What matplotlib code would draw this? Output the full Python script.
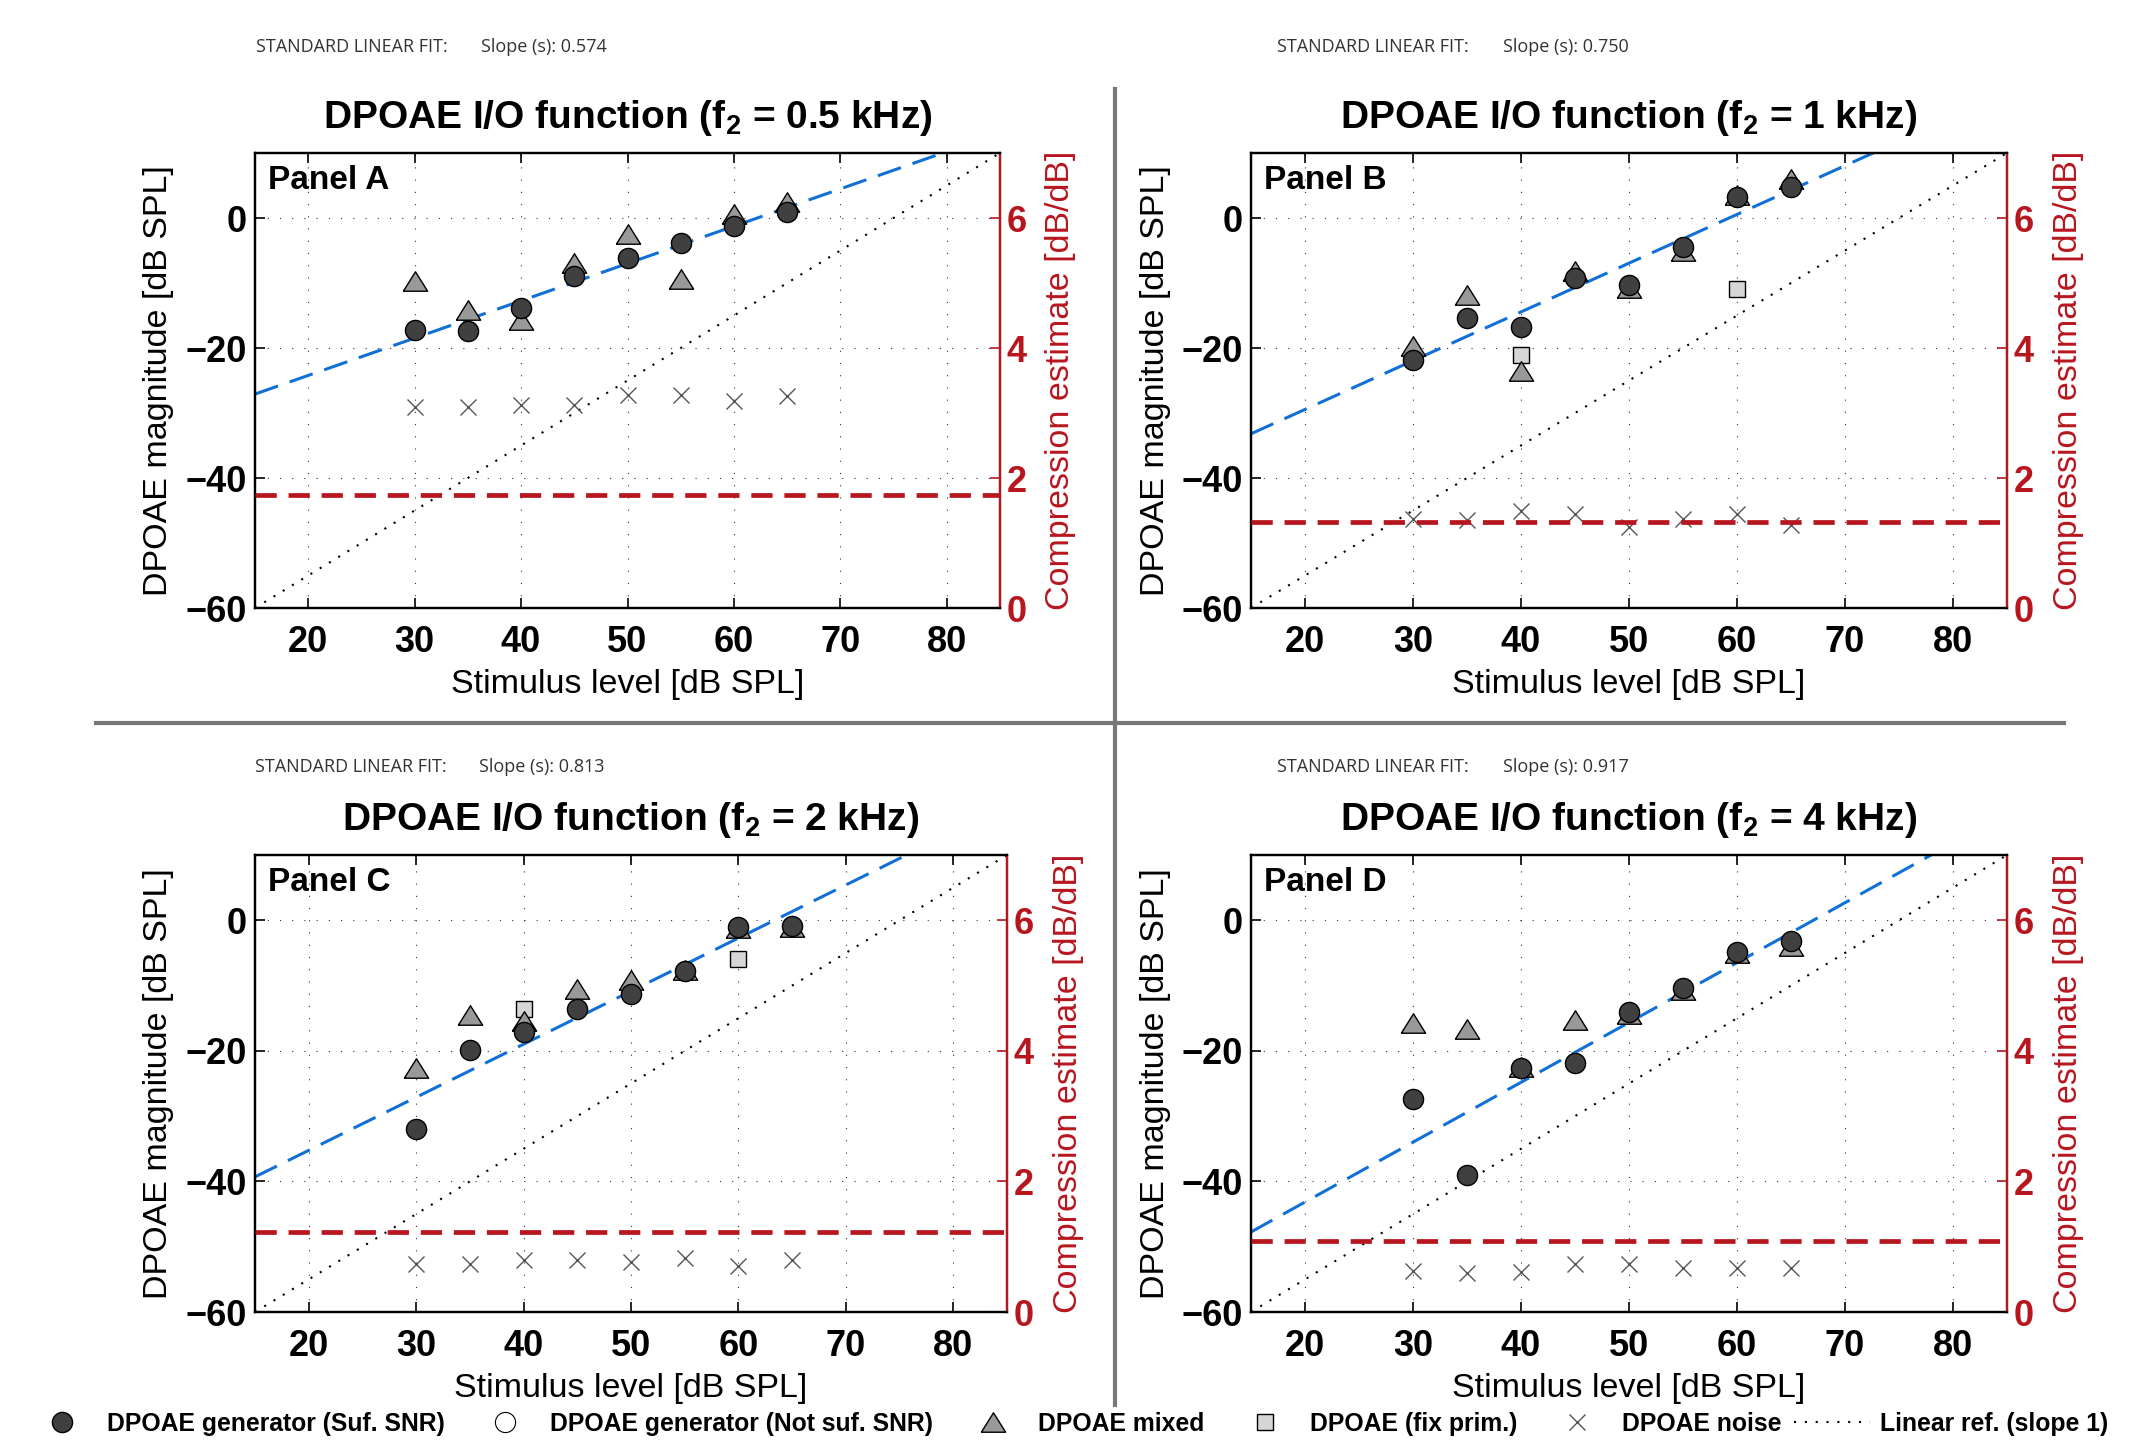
import matplotlib
matplotlib.use('Agg')
import matplotlib.pyplot as plt
import numpy as np
from matplotlib.lines import Line2D

plt.rcParams['font.family'] = ['Liberation Sans', 'DejaVu Sans']
plt.rcParams['mathtext.fontset'] = 'custom'
plt.rcParams['mathtext.rm'] = 'Liberation Sans'
plt.rcParams['mathtext.bf'] = 'Liberation Sans:bold'
plt.rcParams['mathtext.default'] = 'bf'

# stimulus levels (dB SPL)
levels = [30, 35, 40, 45, 50, 55, 60, 65]

panel_names = ['Panel A', 'Panel B', 'Panel C', 'Panel D']
f2_khz = ['0.5', '1', '2', '4']
fit_slope = [0.574, 0.750, 0.813, 0.917]
fit_intercept = [-35.7, -44.45, -51.5, -61.5]
compression = [1.74, 1.33, 1.23, 1.09]
linear_ref_offset = -75.0

# DPOAE generator (suf. SNR)
gen_a = [-17.3, -17.4, -13.8, -8.9, -6.1, -3.8, -1.3, 0.9]
gen_b = [-21.9, -15.4, -16.8, -9.3, -10.3, -4.5, 3.2, 4.7]
gen_c = [-32.0, -19.8, -17.1, -13.6, -11.3, -7.7, -1.0, -0.9]
gen_d = [-27.4, -39.0, -22.7, -21.9, -14.1, -10.3, -4.9, -3.1]

# DPOAE mixed
mixed_a = [-9.7, -14.2, -15.7, -6.9, -2.5, -9.4, 0.6, 2.4]
mixed_b = [-19.7, -11.8, -23.5, -8.2, -10.8, -5.1, 3.6, 6.0]
mixed_c = [-22.7, -14.5, -15.5, -10.6, -9.1, -7.6, -1.2, -1.1]
mixed_d = [-15.7, -16.6, -22.4, -15.3, -14.3, -10.7, -5.0, -4.0]

# DPOAE (fix prim.)
fix_levels_b = [40, 60]
fix_b = [-21.0, -10.9]
fix_levels_c = [40, 60]
fix_c = [-13.6, -6.0]

# DPOAE noise
noise_a = [-29.0, -29.1, -28.7, -28.8, -27.2, -27.3, -28.2, -27.4]
noise_b = [-46.3, -46.5, -45.1, -45.6, -47.5, -46.3, -45.6, -47.2]
noise_c = [-52.7, -52.7, -52.1, -52.1, -52.3, -51.7, -52.9, -52.1]
noise_d = [-53.7, -54.1, -53.8, -52.6, -52.7, -53.2, -53.3, -53.3]

gen = [gen_a, gen_b, gen_c, gen_d]
mixed = [mixed_a, mixed_b, mixed_c, mixed_d]
noise = [noise_a, noise_b, noise_c, noise_d]
fix_x = [[], fix_levels_b, fix_levels_c, []]
fix_y = [[], fix_b, fix_c, []]

xticks = [20, 30, 40, 50, 60, 70, 80]
yticks = [-60, -40, -20, 0]
rticks = [0, 2, 4, 6]

RED = '#b8161f'
BLUE = '#1170d6'

W, H = 2148, 1442
fig = plt.figure(figsize=(W / 100, H / 100), dpi=100)

# axes boxes in pixels: left, top, right, bottom
boxes = [(255, 153, 1000, 608), (1251, 153, 2007, 608),
         (255, 855, 1007, 1312), (1251, 855, 2007, 1312)]
ylab_x = [-0.1087, -0.1058, -0.1077, -0.1058]
fit_text_pos = [(256, 481, 47), (1277, 1503, 47), (255, 479, 767), (1277, 1503, 767)]

# wide MATLAB-like triangle
tri_verts = [(-1.25, -1.0), (1.25, -1.0), (0.0, 1.0), (-1.25, -1.0)]

circle_kw = dict(marker='o', ms=14.5, mfc='#404040', mec='k', mew=1.0, ls='none')
tri_kw = dict(marker=tri_verts, ms=17.5, mfc='#999999', mec='k', mew=1.0, ls='none')
sq_kw = dict(marker='s', ms=11.5, mfc='#d6d6d6', mec='k', mew=1.0, ls='none')
cross_kw = dict(marker='x', ms=11, color='#555555', mew=1.0, ls='none')
ref_kw = dict(color='k', lw=1.5, linestyle=(0, (1, 4.2)))

for i in range(4):
    l, t, r, b = boxes[i]
    ax = fig.add_axes([l / W, 1 - b / H, (r - l) / W, (b - t) / H])
    ax.set_xlim(15, 85)
    ax.set_ylim(-60, 10)

    ax.grid(True, color='#333333', linewidth=0.8, linestyle=(0, (1, 10)))

    x_line = np.array([15.0, 85.0])
    ax.plot(x_line, x_line + linear_ref_offset, zorder=2, **ref_kw)
    ax.plot(x_line, fit_slope[i] * x_line + fit_intercept[i], color=BLUE,
            lw=2.2, dashes=(8, 4), zorder=2)

    ax.plot(levels, noise[i], zorder=3, **cross_kw)
    ax.plot(fix_x[i], fix_y[i], zorder=4, **sq_kw)
    ax.plot(levels, mixed[i], zorder=5, **tri_kw)
    ax.plot(levels, gen[i], zorder=6, **circle_kw)

    ax.set_xticks(xticks)
    ax.set_xticklabels([str(v) for v in xticks], fontsize=26, fontweight='bold')
    ax.set_yticks(yticks)
    ax.set_yticklabels([str(v).replace('-', '\u2212') for v in yticks],
                       fontsize=26, fontweight='bold')
    ax.tick_params(axis='x', direction='in', length=7, width=1.2, top=True, pad=12)
    ax.tick_params(axis='y', direction='in', length=7, width=1.2, right=False, pad=6)
    for s in ax.spines.values():
        s.set_linewidth(1.6)

    ax.set_xlabel('Stimulus level [dB SPL]', fontsize=24.5)
    ax.xaxis.set_label_coords(0.5, -0.134)
    ax.set_ylabel('DPOAE magnitude [dB SPL]', fontsize=24.5)
    ax.yaxis.set_label_coords(ylab_x[i], 0.5)

    ax.set_title('DPOAE I/O function (f$_{2}$ = %s kHz)' % f2_khz[i],
                 fontsize=28, fontweight='bold', pad=18)
    ax.text(0.017, 0.94, panel_names[i], transform=ax.transAxes, fontsize=24,
            fontweight='bold', ha='left', va='center')

    ax2 = ax.twinx()
    ax2.set_ylim(0, 7)
    ax2.axhline(compression[i], color=RED, lw=3.4, dashes=(4.5, 2.5), zorder=3)
    ax2.set_yticks(rticks)
    ax2.set_yticklabels([str(v) for v in rticks], fontsize=26,
                        fontweight='bold', color=RED)
    ax2.tick_params(axis='y', direction='in', length=7, width=1.2, colors=RED, pad=5)
    for s in ax2.spines.values():
        s.set_linewidth(1.6)
    ax2.spines['right'].set_color(RED)
    ax2.set_ylabel('Compression estimate [dB/dB]', fontsize=24.5, color=RED)
    ax2.yaxis.set_label_coords(1.061, 0.5)

    x1, x2, yt = fit_text_pos[i]
    fig.text(x1 / W, 1 - yt / H, 'STANDARD LINEAR FIT:', fontsize=13,
             family='Open Sans', color='#333333', va='center', ha='left')
    fig.text(x2 / W, 1 - yt / H, 'Slope (s): %.3f' % fit_slope[i], fontsize=13,
             family='Open Sans', color='#333333', va='center', ha='left')

# panel separators
fig.add_artist(Line2D([1115 / W, 1115 / W], [1 - 89 / H, 1 - 1405 / H],
                      transform=fig.transFigure, color='#777777', lw=3))
fig.add_artist(Line2D([96 / W, 2064 / W], [1 - 723 / H, 1 - 723 / H],
                      transform=fig.transFigure, color='#777777', lw=3))

# legend: marker entries, then the linear reference line entry
marker_handles = [
    Line2D([], [], **circle_kw),
    Line2D([], [], marker='o', ms=14.5, mfc='white', mec='k', mew=0.8, ls='none'),
    Line2D([], [], **tri_kw),
    Line2D([], [], **sq_kw),
    Line2D([], [], **cross_kw),
]
marker_labels = ['DPOAE generator (Suf. SNR)', 'DPOAE generator (Not suf. SNR)',
                 'DPOAE mixed', 'DPOAE (fix prim.)', 'DPOAE noise']
leg_y = 1 - 1424 / H
leg1 = fig.legend(marker_handles, marker_labels, loc='center left',
                  bbox_to_anchor=(27 / W, leg_y), ncol=5, frameon=False,
                  prop=dict(weight='bold', size=17.8), handlelength=2.85,
                  handletextpad=0.4, columnspacing=1.0, borderpad=0,
                  borderaxespad=0)
fig.legend([Line2D([], [], **ref_kw)], ['Linear ref. (slope 1)'], loc='center left',
           bbox_to_anchor=(1794 / W, leg_y), frameon=False,
           prop=dict(weight='bold', size=17.8), handlelength=3.07,
           handletextpad=0.4, borderpad=0, borderaxespad=0)

fig.savefig('out.png', dpi=100)
